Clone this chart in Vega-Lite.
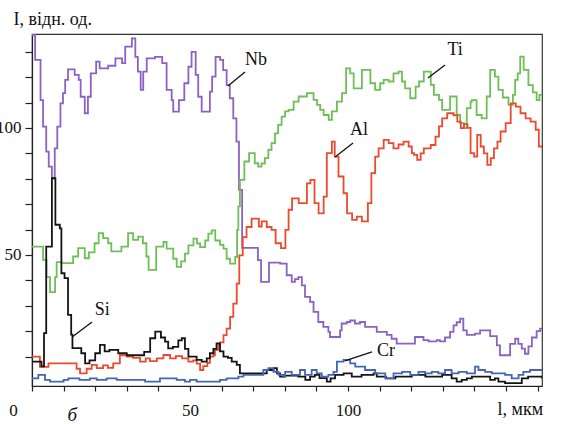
{
  "$schema": "https://vega.github.io/schema/vega-lite/v6.json",
  "width": 510,
  "height": 352,
  "autosize": {"type": "none"},
  "padding": {"left": 32, "top": 34, "right": 20, "bottom": 38},
  "background": "white",
  "config": {
    "font": "Liberation Serif",
    "view": {"stroke": "#333333", "strokeWidth": 1.2},
    "axis": {"grid": false, "domainColor": "#222222", "tickColor": "#222222", "labelColor": "#111111", "titleColor": "#111111", "labelFont": "Liberation Serif", "titleFont": "Liberation Serif", "labelFontSize": 17, "titleFontSize": 18, "titleFontWeight": "normal", "domainWidth": 1.2, "tickWidth": 1.2, "labelOverlap": false, "labelBound": false, "labelFlush": false}
  },
  "title": {"text": "б", "orient": "bottom", "anchor": "start", "dx": 72, "offset": -12, "fontSize": 19, "fontStyle": "italic", "fontWeight": "normal", "font": "Liberation Serif", "color": "#111111"},
  "resolve": {"axis": {"x": "independent", "y": "independent"}},
  "datasets": {
    "profiles": [
      {"s":"Nb","x":0,"v":136.6},{"s":"Nb","x":1.0,"v":126.8},{"s":"Nb","x":2.7,"v":111},{"s":"Nb","x":3.5,"v":100.5},{"s":"Nb","x":4.5,"v":90.7},{"s":"Nb","x":5.3,"v":84.8},{"s":"Nb","x":6.3,"v":80.2},{"s":"Nb","x":7.2,"v":92},{"s":"Nb","x":8.0,"v":100.5},{"s":"Nb","x":9.0,"v":109.7},{"s":"Nb","x":9.8,"v":113.7},{"s":"Nb","x":10.5,"v":118.9},{"s":"Nb","x":11.4,"v":123.1},{"s":"Nb","x":13.5,"v":120.9},{"s":"Nb","x":14.8,"v":118.9},{"s":"Nb","x":15.4,"v":112.3},{"s":"Nb","x":16.7,"v":105.8},{"s":"Nb","x":17.7,"v":112.3},{"s":"Nb","x":18.6,"v":121.5},{"s":"Nb","x":20.3,"v":126.1},{"s":"Nb","x":21.4,"v":123.5},{"s":"Nb","x":24.1,"v":124.5},{"s":"Nb","x":26.4,"v":127.4},{"s":"Nb","x":28.5,"v":125.5},{"s":"Nb","x":29.5,"v":132},{"s":"Nb","x":31.6,"v":135.3},{"s":"Nb","x":32.7,"v":128},{"s":"Nb","x":33.5,"v":122.2},{"s":"Nb","x":34.4,"v":115},{"s":"Nb","x":35.2,"v":122.2},{"s":"Nb","x":36.3,"v":127.4},{"s":"Nb","x":38.9,"v":128},{"s":"Nb","x":41.2,"v":125.5},{"s":"Nb","x":42.6,"v":115},{"s":"Nb","x":44.2,"v":111},{"s":"Nb","x":44.7,"v":106.4},{"s":"Nb","x":46.5,"v":111},{"s":"Nb","x":48.2,"v":117.6},{"s":"Nb","x":49.5,"v":124.1},{"s":"Nb","x":50.5,"v":130},{"s":"Nb","x":51.8,"v":120.9},{"s":"Nb","x":52.6,"v":112.3},{"s":"Nb","x":53.7,"v":106.4},{"s":"Nb","x":56.3,"v":114.3},{"s":"Nb","x":57.0,"v":120.2},{"s":"Nb","x":58.1,"v":128},{"s":"Nb","x":59.5,"v":126.8},{"s":"Nb","x":60.5,"v":122.8},{"s":"Nb","x":61.6,"v":116.9},{"s":"Nb","x":62.6,"v":111.7},{"s":"Nb","x":63.7,"v":103.8},{"s":"Nb","x":64.7,"v":94.6},{"s":"Nb","x":65.5,"v":75.6},{"s":"Nb","x":66.5,"v":52.8},{"s":"Nb","x":71.5,"v":48},{"s":"Nb","x":72.5,"v":39.4},{"s":"Nb","x":75,"v":47},{"s":"Nb","x":78.5,"v":46.6},{"s":"Nb","x":80.6,"v":42},{"s":"Nb","x":82.2,"v":39.4},{"s":"Nb","x":83.2,"v":40.5},{"s":"Nb","x":84.3,"v":41.3},{"s":"Nb","x":85.4,"v":38},{"s":"Nb","x":86.4,"v":33.5},{"s":"Nb","x":88,"v":31.5},{"s":"Nb","x":89.1,"v":27.6},{"s":"Nb","x":90.6,"v":23.6},{"s":"Nb","x":92.2,"v":21.7},{"s":"Nb","x":93.8,"v":19.7},{"s":"Nb","x":94.3,"v":17.7},{"s":"Nb","x":97.5,"v":20.3},{"s":"Nb","x":98,"v":23},{"s":"Nb","x":99.6,"v":23.6},{"s":"Nb","x":100.7,"v":24.2},{"s":"Nb","x":102.2,"v":23},{"s":"Nb","x":103.8,"v":23.6},{"s":"Nb","x":105.4,"v":21.7},{"s":"Nb","x":109.1,"v":19.7},{"s":"Nb","x":112.3,"v":18.5},{"s":"Nb","x":113.8,"v":17},{"s":"Nb","x":115.4,"v":15.1},{"s":"Nb","x":121.2,"v":17.7},{"s":"Nb","x":123.9,"v":16.5},{"s":"Nb","x":125.5,"v":16},{"s":"Nb","x":128.1,"v":16.5},{"s":"Nb","x":129.1,"v":16},{"s":"Nb","x":130.7,"v":17.5},{"s":"Nb","x":132.3,"v":19.7},{"s":"Nb","x":133.4,"v":22.3},{"s":"Nb","x":134.4,"v":23.5},{"s":"Nb","x":135.5,"v":24.9},{"s":"Nb","x":136.5,"v":20.3},{"s":"Nb","x":137.6,"v":18.5},{"s":"Nb","x":140.2,"v":19},{"s":"Nb","x":141.8,"v":20.3},{"s":"Nb","x":145,"v":18},{"s":"Nb","x":147.1,"v":14.4},{"s":"Nb","x":148.1,"v":10.5},{"s":"Nb","x":151.3,"v":15},{"s":"Nb","x":152.9,"v":17},{"s":"Nb","x":153.9,"v":15},{"s":"Nb","x":155,"v":13.1},{"s":"Nb","x":156,"v":11.1},{"s":"Nb","x":157.1,"v":14},{"s":"Nb","x":158.2,"v":17.5},{"s":"Nb","x":159.7,"v":20},{"s":"Nb","x":160.8,"v":21},{"s":"Nb","x":161.4,"v":21},
      {"s":"Ti","x":0,"v":53.3},{"s":"Ti","x":3.5,"v":48.1},{"s":"Ti","x":4.6,"v":41.3},{"s":"Ti","x":5.7,"v":35.4},{"s":"Ti","x":7.3,"v":41.3},{"s":"Ti","x":7.8,"v":47.2},{"s":"Ti","x":9.3,"v":46.8},{"s":"Ti","x":13,"v":49.4},{"s":"Ti","x":14.6,"v":52.7},{"s":"Ti","x":16.7,"v":48.7},{"s":"Ti","x":18,"v":51},{"s":"Ti","x":19.8,"v":54.6},{"s":"Ti","x":21.1,"v":58.6},{"s":"Ti","x":22.5,"v":56.6},{"s":"Ti","x":24.1,"v":54.6},{"s":"Ti","x":25.1,"v":51.4},{"s":"Ti","x":28.3,"v":53.3},{"s":"Ti","x":30.4,"v":58.6},{"s":"Ti","x":32,"v":55.9},{"s":"Ti","x":33.6,"v":57.2},{"s":"Ti","x":35.1,"v":54.6},{"s":"Ti","x":36.2,"v":49.4},{"s":"Ti","x":36.9,"v":44.1},{"s":"Ti","x":39.3,"v":53.3},{"s":"Ti","x":41.6,"v":55.1},{"s":"Ti","x":42.6,"v":52.5},{"s":"Ti","x":44.7,"v":48.5},{"s":"Ti","x":45.8,"v":45.3},{"s":"Ti","x":47.2,"v":47.5},{"s":"Ti","x":48.4,"v":50.5},{"s":"Ti","x":49.5,"v":53.8},{"s":"Ti","x":51.1,"v":56.4},{"s":"Ti","x":52.2,"v":54.5},{"s":"Ti","x":53.2,"v":53.1},{"s":"Ti","x":54.8,"v":55.7},{"s":"Ti","x":55.8,"v":58.4},{"s":"Ti","x":56.9,"v":59.7},{"s":"Ti","x":58,"v":55.7},{"s":"Ti","x":59.5,"v":54},{"s":"Ti","x":60.6,"v":52.5},{"s":"Ti","x":61.6,"v":48.5},{"s":"Ti","x":62.7,"v":46.6},{"s":"Ti","x":64.3,"v":49.2},{"s":"Ti","x":64.9,"v":59.9},{"s":"Ti","x":65.3,"v":69.1},{"s":"Ti","x":65.8,"v":79.6},{"s":"Ti","x":67.2,"v":86.8},{"s":"Ti","x":68.7,"v":90.1},{"s":"Ti","x":70.5,"v":86.1},{"s":"Ti","x":71.6,"v":84.8},{"s":"Ti","x":72.6,"v":86},{"s":"Ti","x":73.7,"v":88.1},{"s":"Ti","x":74.8,"v":91.4},{"s":"Ti","x":75.8,"v":94},{"s":"Ti","x":76.9,"v":97.9},{"s":"Ti","x":77.9,"v":101.2},{"s":"Ti","x":79,"v":104.5},{"s":"Ti","x":80.1,"v":106.5},{"s":"Ti","x":81.2,"v":107.1},{"s":"Ti","x":82.8,"v":110.4},{"s":"Ti","x":84.4,"v":112.4},{"s":"Ti","x":87,"v":113.7},{"s":"Ti","x":89.1,"v":111.1},{"s":"Ti","x":90.2,"v":109.1},{"s":"Ti","x":91.2,"v":107.1},{"s":"Ti","x":92.3,"v":105.1},{"s":"Ti","x":93.9,"v":103.2},{"s":"Ti","x":94.9,"v":106.5},{"s":"Ti","x":96.5,"v":110.4},{"s":"Ti","x":98.1,"v":113.7},{"s":"Ti","x":99.4,"v":123.5},{"s":"Ti","x":100.7,"v":121.5},{"s":"Ti","x":101.8,"v":115.6},{"s":"Ti","x":104.4,"v":122.9},{"s":"Ti","x":107.1,"v":117.6},{"s":"Ti","x":108.6,"v":115},{"s":"Ti","x":110.2,"v":117.6},{"s":"Ti","x":111.3,"v":118.9},{"s":"Ti","x":112.9,"v":118.3},{"s":"Ti","x":114.4,"v":121.5},{"s":"Ti","x":116,"v":122.2},{"s":"Ti","x":117.1,"v":118.3},{"s":"Ti","x":118.1,"v":115.6},{"s":"Ti","x":119.7,"v":111.7},{"s":"Ti","x":121.4,"v":116.3},{"s":"Ti","x":122.5,"v":118.3},{"s":"Ti","x":124,"v":122.2},{"s":"Ti","x":126.2,"v":117},{"s":"Ti","x":127.2,"v":113},{"s":"Ti","x":128.8,"v":111.1},{"s":"Ti","x":129.8,"v":107.1},{"s":"Ti","x":132.3,"v":112.4},{"s":"Ti","x":134.4,"v":105.1},{"s":"Ti","x":135.5,"v":101.9},{"s":"Ti","x":136.7,"v":99.9},{"s":"Ti","x":137.6,"v":107.8},{"s":"Ti","x":138.8,"v":110.4},{"s":"Ti","x":139.2,"v":111},{"s":"Ti","x":140.7,"v":105.1},{"s":"Ti","x":142.3,"v":103.8},{"s":"Ti","x":143.9,"v":112.4},{"s":"Ti","x":145,"v":122.9},{"s":"Ti","x":146.5,"v":120.2},{"s":"Ti","x":147.6,"v":115},{"s":"Ti","x":149,"v":112},{"s":"Ti","x":150.8,"v":109.1},{"s":"Ti","x":152.2,"v":113},{"s":"Ti","x":152.9,"v":118.9},{"s":"Ti","x":153.7,"v":121.5},{"s":"Ti","x":154.5,"v":128.1},{"s":"Ti","x":155.6,"v":122.9},{"s":"Ti","x":157.1,"v":116.9},{"s":"Ti","x":158.5,"v":114},{"s":"Ti","x":159.7,"v":111},{"s":"Ti","x":160.6,"v":113},{"s":"Ti","x":161.4,"v":113},
      {"s":"Al","x":0,"v":10},{"s":"Al","x":2.5,"v":5.9},{"s":"Al","x":5.2,"v":7.3},{"s":"Al","x":14.1,"v":5.2},{"s":"Al","x":15.2,"v":3.4},{"s":"Al","x":17.3,"v":5.2},{"s":"Al","x":18.9,"v":6.7},{"s":"Al","x":20.5,"v":5.4},{"s":"Al","x":22.5,"v":6.5},{"s":"Al","x":24,"v":5.5},{"s":"Al","x":25.7,"v":7.3},{"s":"Al","x":27.8,"v":10.5},{"s":"Al","x":30,"v":10},{"s":"Al","x":32,"v":9.5},{"s":"Al","x":34.2,"v":8},{"s":"Al","x":36,"v":9.3},{"s":"Al","x":37.3,"v":8.2},{"s":"Al","x":39.5,"v":9.3},{"s":"Al","x":41.6,"v":10.6},{"s":"Al","x":43.7,"v":9.3},{"s":"Al","x":45.5,"v":10.2},{"s":"Al","x":47.5,"v":9.3},{"s":"Al","x":49.5,"v":8},{"s":"Al","x":51,"v":8.5},{"s":"Al","x":52.1,"v":7.2},{"s":"Al","x":53.2,"v":4.7},{"s":"Al","x":54.2,"v":6.2},{"s":"Al","x":55.5,"v":7.5},{"s":"Al","x":56.3,"v":10},{"s":"Al","x":57.4,"v":10.5},{"s":"Al","x":57.9,"v":12.6},{"s":"Al","x":59,"v":14.6},{"s":"Al","x":59.5,"v":15.6},{"s":"Al","x":60.6,"v":18.4},{"s":"Al","x":61.6,"v":21},{"s":"Al","x":62.7,"v":25.6},{"s":"Al","x":63.7,"v":30.8},{"s":"Al","x":64.8,"v":38.7},{"s":"Al","x":65.6,"v":49.8},{"s":"Al","x":66.7,"v":57},{"s":"Al","x":67.9,"v":61},{"s":"Al","x":69.5,"v":64.3},{"s":"Al","x":71.8,"v":61.2},{"s":"Al","x":72.7,"v":63.2},{"s":"Al","x":74.3,"v":61},{"s":"Al","x":75.8,"v":59.9},{"s":"Al","x":77.1,"v":54.6},{"s":"Al","x":78.8,"v":52.7},{"s":"Al","x":80.2,"v":59.9},{"s":"Al","x":81.2,"v":67.8},{"s":"Al","x":82.3,"v":72.3},{"s":"Al","x":84.4,"v":70.4},{"s":"Al","x":87,"v":78.2},{"s":"Al","x":88.1,"v":79.6},{"s":"Al","x":89.4,"v":70.4},{"s":"Al","x":90.7,"v":66.4},{"s":"Al","x":92.3,"v":73},{"s":"Al","x":93.3,"v":90.1},{"s":"Al","x":94.9,"v":94.6},{"s":"Al","x":95.8,"v":88.7},{"s":"Al","x":97,"v":80.9},{"s":"Al","x":98.6,"v":74.3},{"s":"Al","x":99.7,"v":66.4},{"s":"Al","x":101.3,"v":63.8},{"s":"Al","x":102.8,"v":65.1},{"s":"Al","x":104.4,"v":63.2},{"s":"Al","x":106.3,"v":70.4},{"s":"Al","x":107.4,"v":82.2},{"s":"Al","x":108.6,"v":88.7},{"s":"Al","x":109.7,"v":92},{"s":"Al","x":111.3,"v":95.3},{"s":"Al","x":112.9,"v":94},{"s":"Al","x":114.4,"v":92},{"s":"Al","x":116,"v":93.5},{"s":"Al","x":117.6,"v":94.6},{"s":"Al","x":119.2,"v":92.7},{"s":"Al","x":120.2,"v":90.1},{"s":"Al","x":120.9,"v":89.4},{"s":"Al","x":121.9,"v":87.4},{"s":"Al","x":123,"v":90},{"s":"Al","x":124,"v":92},{"s":"Al","x":126.2,"v":93.3},{"s":"Al","x":127.7,"v":96.6},{"s":"Al","x":128.8,"v":100.6},{"s":"Al","x":129.8,"v":103.8},{"s":"Al","x":131.4,"v":105.8},{"s":"Al","x":133.4,"v":105},{"s":"Al","x":134.6,"v":102.5},{"s":"Al","x":135.7,"v":99.9},{"s":"Al","x":136.7,"v":101.5},{"s":"Al","x":137.8,"v":100},{"s":"Al","x":138.8,"v":90.1},{"s":"Al","x":139.9,"v":88.7},{"s":"Al","x":140.9,"v":97.3},{"s":"Al","x":142,"v":92.7},{"s":"Al","x":143,"v":90},{"s":"Al","x":144.1,"v":85.5},{"s":"Al","x":145.2,"v":88.1},{"s":"Al","x":146.2,"v":92},{"s":"Al","x":147.3,"v":94.6},{"s":"Al","x":148.3,"v":98.6},{"s":"Al","x":149.9,"v":101.9},{"s":"Al","x":151.5,"v":109.7},{"s":"Al","x":153.1,"v":108.4},{"s":"Al","x":154.6,"v":105.8},{"s":"Al","x":156.2,"v":103.8},{"s":"Al","x":157.8,"v":102.5},{"s":"Al","x":159.4,"v":99.3},{"s":"Al","x":160.4,"v":92.7},{"s":"Al","x":161.4,"v":92.7},
      {"s":"Si","x":0,"v":8},{"s":"Si","x":3.0,"v":6.1},{"s":"Si","x":3.8,"v":19.2},{"s":"Si","x":4.5,"v":53.3},{"s":"Si","x":6.3,"v":80.2},{"s":"Si","x":7.4,"v":61.9},{"s":"Si","x":8.8,"v":60.5},{"s":"Si","x":9.3,"v":42.8},{"s":"Si","x":10.3,"v":40.9},{"s":"Si","x":11.4,"v":26.4},{"s":"Si","x":12.4,"v":18.6},{"s":"Si","x":12.8,"v":13.3},{"s":"Si","x":15.6,"v":11.3},{"s":"Si","x":16.8,"v":7.3},{"s":"Si","x":18.2,"v":8.5},{"s":"Si","x":20,"v":11.3},{"s":"Si","x":21.5,"v":14.6},{"s":"Si","x":23,"v":12},{"s":"Si","x":24.5,"v":12.6},{"s":"Si","x":27.3,"v":11.3},{"s":"Si","x":30,"v":10.5},{"s":"Si","x":35.5,"v":11.8},{"s":"Si","x":37.4,"v":17.2},{"s":"Si","x":39,"v":19.8},{"s":"Si","x":40.8,"v":17.5},{"s":"Si","x":42.1,"v":15.9},{"s":"Si","x":43.1,"v":13.2},{"s":"Si","x":44.6,"v":13.8},{"s":"Si","x":46.3,"v":16.4},{"s":"Si","x":47.4,"v":17.2},{"s":"Si","x":48.4,"v":13},{"s":"Si","x":49.5,"v":10},{"s":"Si","x":52.1,"v":8.7},{"s":"Si","x":53.7,"v":8},{"s":"Si","x":55.3,"v":9.3},{"s":"Si","x":56.3,"v":11.3},{"s":"Si","x":57.4,"v":13},{"s":"Si","x":58.4,"v":15.2},{"s":"Si","x":59.5,"v":12},{"s":"Si","x":60.6,"v":10},{"s":"Si","x":62,"v":9.5},{"s":"Si","x":63.2,"v":8},{"s":"Si","x":64.8,"v":6.7},{"s":"Si","x":65.8,"v":3.4},{"s":"Si","x":74.3,"v":4.7},{"s":"Si","x":76.5,"v":5.4},{"s":"Si","x":77.5,"v":3.4},{"s":"Si","x":78.5,"v":2.1},{"s":"Si","x":80,"v":2.5},{"s":"Si","x":84.3,"v":2.1},{"s":"Si","x":86.5,"v":0.8},{"s":"Si","x":88,"v":2.1},{"s":"Si","x":89.5,"v":2.8},{"s":"Si","x":91,"v":1.5},{"s":"Si","x":93.3,"v":0.1},{"s":"Si","x":94.5,"v":1.4},{"s":"Si","x":95.9,"v":2.8},{"s":"Si","x":98.6,"v":3.4},{"s":"Si","x":101.2,"v":2.1},{"s":"Si","x":104.3,"v":2.8},{"s":"Si","x":108.1,"v":3.4},{"s":"Si","x":109.1,"v":2.1},{"s":"Si","x":112,"v":1.4},{"s":"Si","x":115,"v":2.1},{"s":"Si","x":120.2,"v":2.8},{"s":"Si","x":124.5,"v":2.1},{"s":"Si","x":129.8,"v":2.8},{"s":"Si","x":132.8,"v":1.4},{"s":"Si","x":134.4,"v":0.1},{"s":"Si","x":136,"v":0.8},{"s":"Si","x":137.6,"v":1.4},{"s":"Si","x":139.2,"v":2.1},{"s":"Si","x":143.4,"v":2.1},{"s":"Si","x":145,"v":0.8},{"s":"Si","x":146.5,"v":1.4},{"s":"Si","x":147.6,"v":0.1},{"s":"Si","x":149.7,"v":-0.5},{"s":"Si","x":154,"v":-0.5},{"s":"Si","x":155,"v":1.4},{"s":"Si","x":157,"v":2.1},{"s":"Si","x":161.4,"v":1.4},
      {"s":"Cr","x":0,"v":1.4},{"s":"Cr","x":2,"v":2.8},{"s":"Cr","x":4.1,"v":0.8},{"s":"Cr","x":5.7,"v":0.1},{"s":"Cr","x":10,"v":0.8},{"s":"Cr","x":11.5,"v":1.4},{"s":"Cr","x":15,"v":0.8},{"s":"Cr","x":18.3,"v":1.4},{"s":"Cr","x":20.5,"v":0.8},{"s":"Cr","x":23.6,"v":1.4},{"s":"Cr","x":26.8,"v":0.8},{"s":"Cr","x":35.8,"v":0.1},{"s":"Cr","x":40.5,"v":1.4},{"s":"Cr","x":45.8,"v":0.8},{"s":"Cr","x":48.4,"v":0.1},{"s":"Cr","x":50,"v":0.8},{"s":"Cr","x":52.1,"v":0.1},{"s":"Cr","x":56.3,"v":0.1},{"s":"Cr","x":59.5,"v":0.8},{"s":"Cr","x":61.6,"v":1.4},{"s":"Cr","x":65.3,"v":2.1},{"s":"Cr","x":66.9,"v":2.8},{"s":"Cr","x":73.2,"v":4.7},{"s":"Cr","x":74.8,"v":5.4},{"s":"Cr","x":76.4,"v":4},{"s":"Cr","x":78,"v":2.8},{"s":"Cr","x":79.6,"v":2.1},{"s":"Cr","x":80.1,"v":4},{"s":"Cr","x":82.2,"v":2.8},{"s":"Cr","x":84.8,"v":4.7},{"s":"Cr","x":86.4,"v":2.8},{"s":"Cr","x":88.5,"v":4.7},{"s":"Cr","x":90.1,"v":3.4},{"s":"Cr","x":91.7,"v":2.1},{"s":"Cr","x":93.8,"v":2.8},{"s":"Cr","x":95.4,"v":4},{"s":"Cr","x":96.5,"v":8},{"s":"Cr","x":98.6,"v":8.7},{"s":"Cr","x":100.7,"v":7.3},{"s":"Cr","x":102.3,"v":6},{"s":"Cr","x":105.4,"v":4.7},{"s":"Cr","x":108.6,"v":3.4},{"s":"Cr","x":111.8,"v":1.4},{"s":"Cr","x":114.4,"v":3.4},{"s":"Cr","x":117.1,"v":4},{"s":"Cr","x":119.7,"v":2.8},{"s":"Cr","x":122.3,"v":4},{"s":"Cr","x":124.4,"v":3.4},{"s":"Cr","x":126.5,"v":4},{"s":"Cr","x":128.6,"v":3.4},{"s":"Cr","x":130.7,"v":4.7},{"s":"Cr","x":132.8,"v":3.4},{"s":"Cr","x":135,"v":4},{"s":"Cr","x":137.6,"v":3.4},{"s":"Cr","x":140.2,"v":6},{"s":"Cr","x":141.3,"v":4.7},{"s":"Cr","x":143.4,"v":4},{"s":"Cr","x":145.5,"v":3.4},{"s":"Cr","x":149.7,"v":2.8},{"s":"Cr","x":151.8,"v":1.4},{"s":"Cr","x":154,"v":2.8},{"s":"Cr","x":155.5,"v":4},{"s":"Cr","x":157.6,"v":4.7},{"s":"Cr","x":161.4,"v":4.7}
    ],
    "labels": [
      {"name":"Nb","tx":70.9,"ty":126.8,"x1":62.0,"y1":116.5,"x2":67.4,"y2":122.0},
      {"name":"Ti","tx":133.9,"ty":130.7,"x1":125.3,"y1":119.7,"x2":130.7,"y2":124.8},
      {"name":"Al","tx":103.5,"ty":99.2,"x1":95.9,"y1":88.6,"x2":101.6,"y2":94.1},
      {"name":"Si","tx":22.2,"ty":28.3,"x1":12.7,"y1":17.7,"x2":19.0,"y2":23.6},
      {"name":"Cr","tx":112,"ty":12.2,"x1":99,"y1":8.3,"x2":107.6,"y2":11.8}
    ]
  },
  "layer": [
    {
      "data": {"name": "profiles"},
      "mark": {"type": "line", "interpolate": "step-after", "strokeWidth": 1.8, "clip": true},
      "encoding": {
        "x": {"field": "x", "type": "quantitative", "scale": {"domain": [0, 161.4], "nice": false, "zero": false},
          "axis": {"orient": "bottom", "values": [0, 50, 100], "labelOverlap": false, "tickSize": 5, "labelPadding": 11, "labelAngle": 0, "labelBaseline": "top",
            "labelOffset": {"condition": {"test": "datum.value == 0", "value": -19}, "value": 0},
            "title": "l, мкм", "titleAnchor": "start", "titleAlign": "left", "titleX": 465, "titleY": 28, "titleBaseline": "alphabetic"}},
        "y": {"field": "v", "type": "quantitative", "scale": {"domain": [-1.6, 137], "nice": false, "zero": false},
          "axis": {"orient": "left", "values": [50, 100], "labelOverlap": false, "tickSize": 7, "labelPadding": 4, "title": "I, відн. од.", "titleAngle": 0, "titleAlign": "left", "titleBaseline": "alphabetic", "titleX": -19, "titleY": -10}},
        "color": {"field": "s", "type": "nominal", "scale": {"domain": ["Nb","Ti","Al","Si","Cr"], "range": ["#8b62c4","#6fbf58","#ea4b2e","#141414","#4466b4"]}, "legend": null},
        "order": {"field": "x", "type": "quantitative"}
      }
    },
    {
      "data": {"name": "labels"},
      "mark": {"type": "rule", "color": "#111111", "strokeWidth": 1.3},
      "encoding": {
        "x": {"field": "x1", "type": "quantitative",
          "axis": {"orient": "bottom", "values": [10,20,30,40,60,70,80,90,110,120,130,140,150,160], "labels": false, "domain": false, "tickSize": 5, "title": null}},
        "y": {"field": "y1", "type": "quantitative",
          "axis": {"orient": "left", "values": [10,20,30,40,60,70,80,90,110,120,130], "labels": false, "domain": false, "tickSize": 7, "title": null}},
        "x2": {"field": "x2"},
        "y2": {"field": "y2"}
      }
    },
    {
      "data": {"name": "labels"},
      "mark": {"type": "text", "font": "Liberation Serif", "fontSize": 18, "color": "#111111", "align": "center", "baseline": "middle"},
      "encoding": {
        "x": {"field": "tx", "type": "quantitative", "axis": null},
        "y": {"field": "ty", "type": "quantitative", "axis": null},
        "text": {"field": "name"}
      }
    }
  ]
}
